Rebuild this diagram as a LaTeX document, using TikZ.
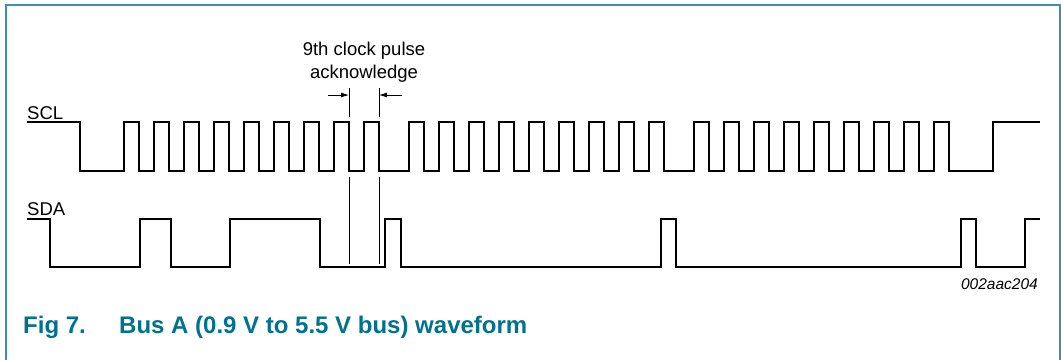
\documentclass[tikz,border=0pt]{standalone}
\usepackage{fontspec}
\setmainfont{Liberation Sans}
\usetikzlibrary{arrows.meta}
\definecolor{kehys}{RGB}{60,145,175}
\definecolor{otsikko}{RGB}{0,114,142}
\begin{document}
\begin{tikzpicture}[x=1pt,y=-1pt,
  aalto/.style={draw,line width=1.8pt,line join=miter},
  merkki/.style={draw,line width=0.8pt},
  nuoli/.style={draw,line width=0.8pt,-{Latex[length=8pt,width=5pt]}},
  teksti/.style={inner sep=0pt,anchor=base west,font=\fontsize{18.5}{22}\selectfont}]
\useasboundingbox (0,0) rectangle (1061,360);
\newcommand\pulssit{
\foreach \i in {1,...,9} {-- ++(0,-49) -- ++(15,0) -- ++(0,49) -- ++(15,0)}
}
% frame
\path[draw,kehys,line width=2pt] (6,360) -- (6,5) -- (1059.5,5) -- (1059.5,360);
% labels
\node[teksti] (scl) at (27,119) {SCL};
\node[teksti] (sda) at (27,215) {SDA};
\node[teksti,anchor=base] (yhdeksas) at (364,55) {9th clock pulse};
\node[teksti,anchor=base] (ack) at (364,78) {acknowledge};
\node[inner sep=0pt,anchor=base east,font=\fontsize{15.5}{18}\selectfont\itshape] (koodi) at (1038,289) {002aac204};
\node[inner sep=0pt,anchor=base west,text=otsikko,font=\fontsize{24}{26}\selectfont\bfseries] (fig) at (23,333) {Fig 7.};
\node[inner sep=0pt,anchor=base west,text=otsikko,font=\fontsize{24}{26}\selectfont\bfseries] (otsake) at (119,333) {Bus A (0.9 V to 5.5 V bus) waveform};
% SCL
\path[aalto] (27,122) -- (80,122) -- (80,171) -- (124,171) \pulssit
  -- (409,171) \pulssit -- (694,171) \pulssit -- (993,171) -- (993,122) -- (1040,122);
% SDA
\path[aalto] (27,219) -- (50,219) -- (50,267) -- (140,267) -- (140,219) -- (171,219)
  -- (171,267) -- (230,267) -- (230,219) -- (320,219) -- (320,267) -- (385,267)
  -- (385,219) -- (401,219) -- (401,267) -- (661,267) -- (661,219) -- (676,219)
  -- (676,267) -- (961,267) -- (961,219) -- (976,219) -- (976,267) -- (1025,267)
  -- (1025,219) -- (1040,219);
% acknowledge markers
\coordinate (a1) at (349,88);
\coordinate (a2) at (349,117);
\coordinate (a3) at (349,177);
\coordinate (a4) at (349,264);
\coordinate (b1) at (379,88);
\coordinate (b2) at (379,117);
\coordinate (b3) at (379,177);
\coordinate (b4) at (379,264);
\path[merkki] (a1) -- (a2);
\path[merkki] (a3) -- (a4);
\path[merkki] (b1) -- (b2);
\path[merkki] (b3) -- (b4);
\coordinate (vas) at (328,95);
\coordinate (oik) at (402,95);
\path[nuoli] (vas) -- (a1 |- vas);
\path[nuoli] (oik) -- (b1 |- oik);
\end{tikzpicture}
\end{document}
